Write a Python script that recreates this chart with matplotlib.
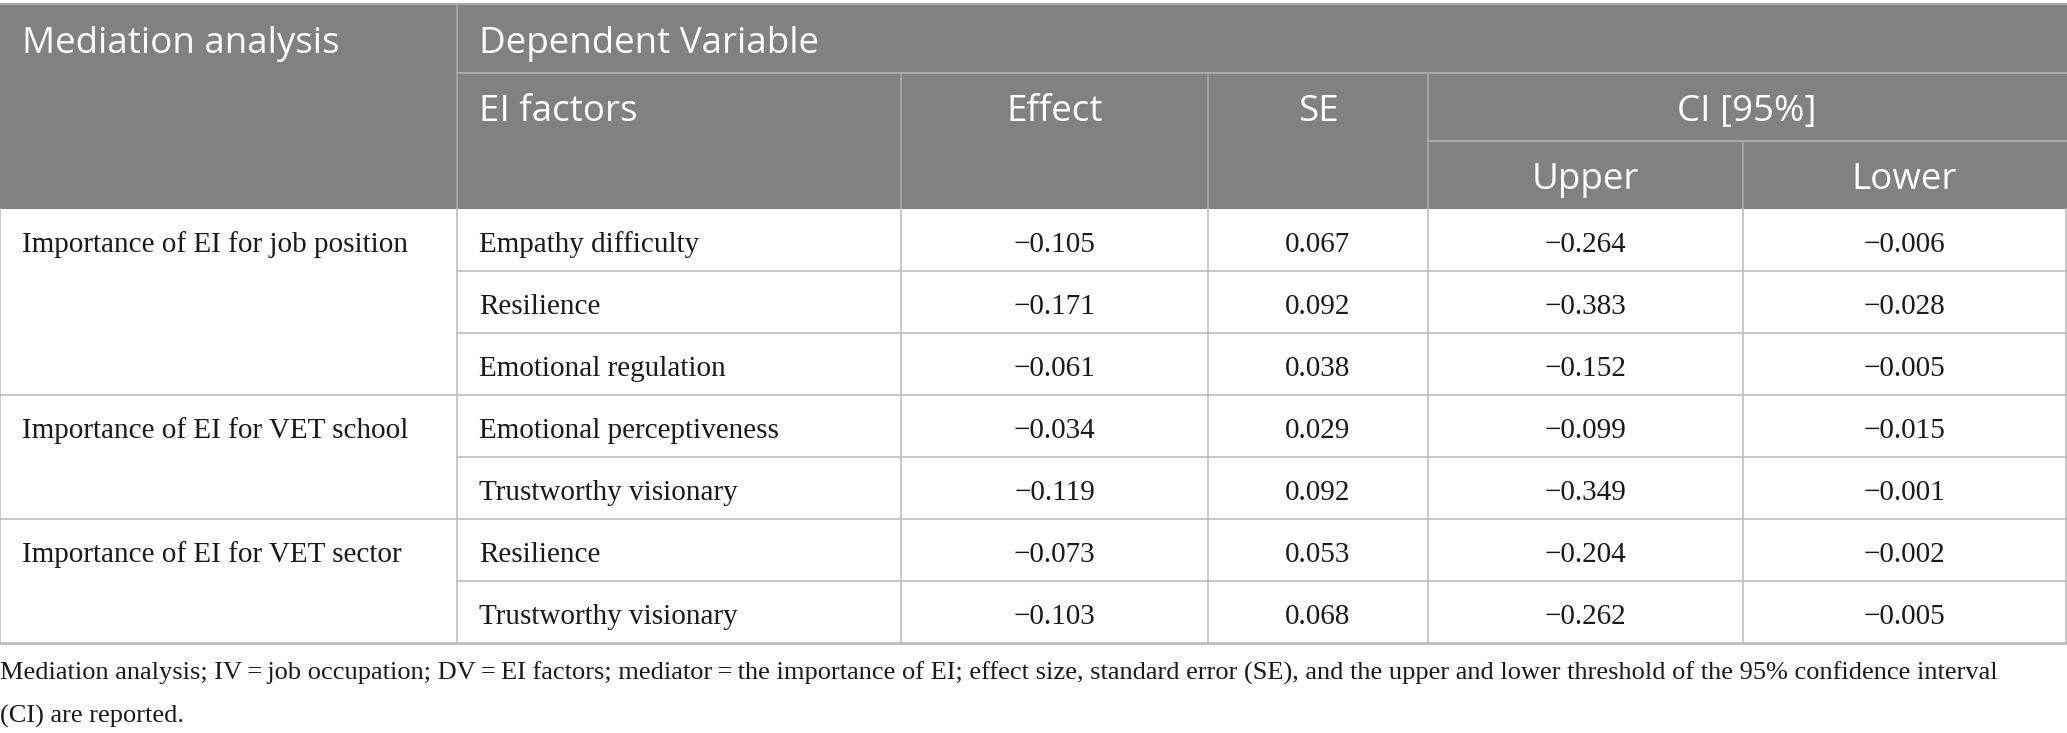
import numpy as np
import pandas as pd
import matplotlib.pyplot as plt

# table content
groups = ["Importance of EI for job position",
          "Importance of EI for VET school",
          "Importance of EI for VET sector"]
group_sizes = [3, 2, 2]
factors = ["Empathy difficulty", "Resilience", "Emotional regulation",
           "Emotional perceptiveness", "Trustworthy visionary",
           "Resilience", "Trustworthy visionary"]
effect = [-0.105, -0.171, -0.061, -0.034, -0.119, -0.073, -0.103]
se = [0.067, 0.092, 0.038, 0.029, 0.092, 0.053, 0.068]
upper = [-0.264, -0.383, -0.152, -0.099, -0.349, -0.204, -0.262]
lower = [-0.006, -0.028, -0.005, -0.015, -0.001, -0.002, -0.005]

caption = ["Mediation analysis; IV\u2009=\u2009job occupation; DV\u2009=\u2009EI factors; "
           "mediator\u2009=\u2009the importance of EI; effect size, standard error (SE), "
           "and the upper and lower threshold of the 95% confidence interval",
           "(CI) are reported."]

df = pd.DataFrame({"factor": factors, "effect": effect, "se": se,
                   "upper": upper, "lower": lower})


def fmt(v):
    s = "%.3f" % abs(v)
    return ("\u2212" + s) if v < 0 else s


W, H = 2067, 733
fig = plt.figure(figsize=(W / 100, H / 100), dpi=100)
ax = fig.add_axes([0, 0, 1, 1])
ax.set_xlim(0, W)
ax.set_ylim(H, 0)
ax.axis("off")

head_bg = "#808180"
head_line = "#a9aaa9"
grid = "#bdbdbd"
txt = "#1a1a1a"
sans = ["Open Sans", "DejaVu Sans"]
serif = ["Liberation Serif", "DejaVu Serif"]

cols = [0, 457, 901, 1208, 1428, 1743, 2066]
top, h1, h2, hb = 4, 73, 141, 209
row_h = 62
dy_head = 5   # open sans sits a bit high with va=center
dy_body = 5

# header block
ax.add_patch(plt.Rectangle((0, top), W, hb - top, color=head_bg, lw=0))
ax.plot([0, W], [top, top], color=head_line, lw=1.5)
ax.plot([cols[1], W], [h1, h1], color=head_line, lw=1.5)
ax.plot([cols[4], W], [h2, h2], color=head_line, lw=1.5)
ax.plot([cols[1], cols[1]], [top, hb], color=head_line, lw=1.2)
for x in cols[2:5]:
    ax.plot([x, x], [h1, hb], color=head_line, lw=1.2)
ax.plot([cols[5], cols[5]], [h2, hb], color=head_line, lw=1.2)

hs = 26.5
ax.text(22, (top + h1) / 2 + dy_head, "Mediation analysis", color="white",
        fontsize=hs, family=sans, va="center", ha="left")
ax.text(cols[1] + 22, (top + h1) / 2 + dy_head, "Dependent Variable",
        color="white", fontsize=hs, family=sans, va="center", ha="left")
ax.text(cols[1] + 22, (h1 + h2) / 2 + dy_head, "EI factors", color="white",
        fontsize=hs, family=sans, va="center", ha="left")
for i, lab in [(2, "Effect"), (3, "SE")]:
    ax.text((cols[i] + cols[i + 1]) / 2, (h1 + h2) / 2 + dy_head, lab,
            color="white", fontsize=hs, family=sans, va="center", ha="center")
ax.text((cols[4] + cols[6]) / 2, (h1 + h2) / 2 + dy_head, "CI [95%]",
        color="white", fontsize=hs, family=sans, va="center", ha="center")
for i, lab in [(4, "Upper"), (5, "Lower")]:
    ax.text((cols[i] + cols[i + 1]) / 2, (h2 + hb) / 2 + dy_head, lab,
            color="white", fontsize=hs, family=sans, va="center", ha="center")

# body
bs = 21
n = len(df)
bottom = hb + n * row_h
for x in cols:
    ax.plot([x, x], [hb, bottom], color=grid, lw=1.2)
r = 0
for g, size in zip(groups, group_sizes):
    y0 = hb + r * row_h
    ax.text(22, y0 + row_h / 2 + dy_body, g, fontsize=bs, family=serif,
            va="center", ha="left", color=txt)
    for k in range(1, size):
        y = hb + (r + k) * row_h
        ax.plot([cols[1], W], [y, y], color=grid, lw=1.2)
    r += size
    yb = hb + r * row_h
    ax.plot([0, W], [yb, yb], color=grid, lw=1.2 if r < n else 2.0)

for i, row in df.iterrows():
    yc = hb + i * row_h + row_h / 2 + dy_body
    ax.text(cols[1] + 22, yc, row["factor"], fontsize=bs, family=serif,
            va="center", ha="left", color=txt)
    for j, key in enumerate(["effect", "se", "upper", "lower"]):
        ax.text((cols[2 + j] + cols[3 + j]) / 2, yc, fmt(row[key]),
                fontsize=bs, family=serif, va="center", ha="center", color=txt)

# caption
ax.text(0, 673, caption[0], fontsize=19, family=serif, va="center",
        ha="left", color=txt)
ax.text(0, 716, caption[1], fontsize=19, family=serif, va="center",
        ha="left", color=txt)

fig.savefig("out.png", dpi=100)
